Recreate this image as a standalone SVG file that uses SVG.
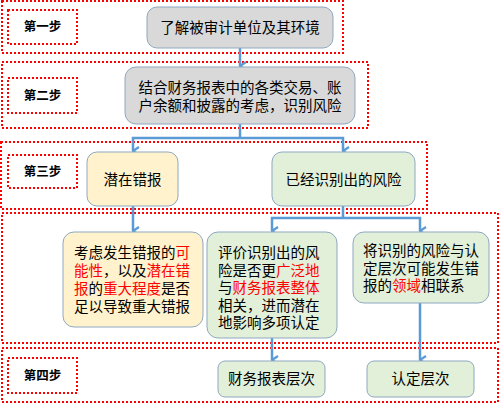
<svg xmlns="http://www.w3.org/2000/svg" width="500" height="404" viewBox="0 0 500 404">
<defs>
<marker id="ah" viewBox="0 0 10 10" refX="5" refY="9" markerWidth="10" markerHeight="10" markerUnits="userSpaceOnUse" orient="auto-start-reverse">
<path d="M1,3 L5,9 L9,3" fill="none" stroke="#5b9bd5" stroke-width="2.2"/>
</marker>
<style>
.zone{fill:none;stroke:#ff0000;stroke-width:2;stroke-dasharray:2 2}
.lab{fill:#fff;stroke:#ff0000;stroke-width:2;stroke-dasharray:2 2}
.lt{font-family:"Liberation Sans","Noto Sans CJK SC",sans-serif;font-size:12.5px;font-weight:bold;fill:#000;text-anchor:middle;dominant-baseline:central}
.t{font-family:"Liberation Sans","Noto Sans CJK SC",sans-serif;font-size:14.5px;fill:#000;dominant-baseline:central}
.c{text-anchor:middle}
.r{fill:#ff0000}
.gray{fill:#d9d9d9;stroke:#8ea9c1;stroke-width:1}
.yel{fill:#fff2cc;stroke:#8ea9c1;stroke-width:1}
.grn{fill:#e2efd9;stroke:#8ea9c1;stroke-width:1}
.cn{fill:none;stroke:#5b9bd5;stroke-width:2.5}
</style>
</defs>
<g id="zones">
<rect class="zone" x="2" y="1" width="341" height="52"/>
<rect class="zone" x="2" y="62" width="366" height="66"/>
<rect class="zone" x="1" y="142" width="426" height="67"/>
<rect class="zone" x="2" y="213" width="496" height="130"/>
<rect class="zone" x="2" y="348" width="496" height="54"/>
</g>
<g id="step1"><rect class="lab" x="8" y="10" width="69" height="34"/><text class="lt" x="42.5" y="27">第一步</text></g>
<g id="step2"><rect class="lab" x="8" y="78" width="69" height="35"/><text class="lt" x="42.5" y="95.5">第二步</text></g>
<g id="step3"><rect class="lab" x="8" y="155" width="69" height="33"/><text class="lt" x="42.5" y="171.5">第三步</text></g>
<g id="step4"><rect class="lab" x="8" y="358" width="69" height="35"/><text class="lt" x="42.5" y="375.5">第四步</text></g>
<g id="connectors">
<line class="cn" x1="240" y1="48" x2="240" y2="66" marker-end="url(#ah)"/>
<polyline class="cn" points="240,124 240,138"/>
<polyline class="cn" points="133,151 133,138 343,138 343,151" marker-start="url(#ah)" marker-end="url(#ah)"/>
<line class="cn" x1="133" y1="206" x2="133" y2="231" marker-end="url(#ah)"/>
<polyline class="cn" points="343,206 343,218"/>
<polyline class="cn" points="272,231 272,218 420,218 420,231" marker-start="url(#ah)" marker-end="url(#ah)"/>
<line class="cn" x1="272" y1="338" x2="272" y2="360" marker-end="url(#ah)"/>
<line class="cn" x1="420" y1="303" x2="420" y2="360" marker-end="url(#ah)"/>
</g>
<g id="n1"><rect class="gray" x="147" y="7" width="186" height="41" rx="10"/><text class="t c" x="240" y="28">了解被审计单位及其环境</text></g>
<g id="n2"><rect class="gray" x="125" y="67" width="230" height="57" rx="11"/>
<text class="t c" x="240" y="88">结合财务报表中的各类交易、账<tspan x="240" y="106">户余额和披露的考虑，识别风险</tspan></text></g>
<g id="n3"><rect class="yel" x="87" y="152" width="91" height="54" rx="10"/><text class="t c" x="132.5" y="180">潜在错报</text></g>
<g id="n4"><rect class="grn" x="272" y="152" width="143" height="54" rx="10"/><text class="t c" x="343.5" y="180">已经识别出的风险</text></g>
<g id="n5"><rect class="yel" x="63" y="232" width="140" height="95" rx="11"/>
<text class="t" x="74" y="253">考虑发生错报的<tspan class="r">可</tspan><tspan class="r" x="74" y="271">能性</tspan>，以及<tspan class="r">潜在错</tspan><tspan class="r" x="74" y="289">报</tspan>的<tspan class="r">重大程度</tspan>是否<tspan x="74" y="307">足以导致重大错报</tspan></text></g>
<g id="n6"><rect class="grn" x="207" y="232" width="130" height="106" rx="11"/>
<text class="t" x="218" y="253">评价识别出的风<tspan x="218" y="270.5">险是否更</tspan><tspan class="r">广泛地</tspan><tspan x="218" y="288">与</tspan><tspan class="r">财务报表整体</tspan><tspan x="218" y="305.5">相关，进而潜在</tspan><tspan x="218" y="323">地影响多项认定</tspan></text></g>
<g id="n7"><rect class="grn" x="353" y="232" width="136" height="71" rx="11"/>
<text class="t" x="363" y="251">将识别的风险与认<tspan x="363" y="268.5">定层次可能发生错</tspan><tspan x="363" y="286">报的</tspan><tspan class="r">领域</tspan>相联系</text></g>
<g id="n8"><rect class="grn" x="218" y="361" width="107" height="36" rx="7"/><text class="t c" x="271.5" y="379">财务报表层次</text></g>
<g id="n9"><rect class="grn" x="367" y="361" width="107" height="36" rx="7"/><text class="t c" x="420.5" y="379">认定层次</text></g>
</svg>
